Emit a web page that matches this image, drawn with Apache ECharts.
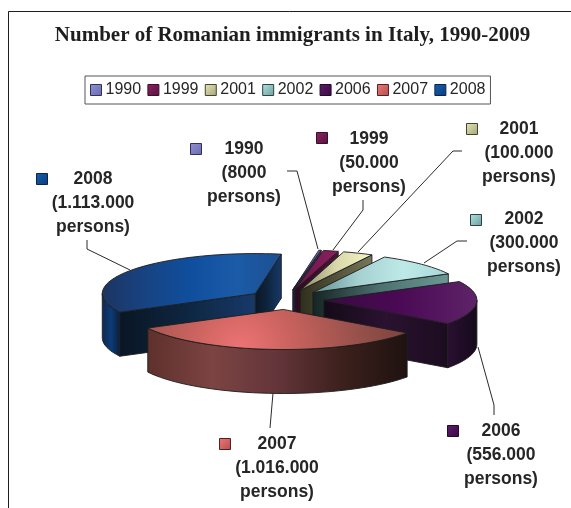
<!DOCTYPE html>
<html>
<head>
<meta charset="utf-8">
<style>html,body{margin:0;padding:0;background:#fff}#chart{width:571px;height:508px}</style>
<script src="https://cdn.jsdelivr.net/npm/echarts@6/dist/echarts.min.js"></script>
</head>
<body>
<div id="chart"></div>
<script>
// Romanian immigrants in Italy, by year of record
const years = ['1990', '1999', '2001', '2002', '2006', '2007', '2008'];
const persons = [8000, 50000, 100000, 300000, 556000, 1016000, 1113000];
const personLabels = ['(8000', '(50.000', '(100.000', '(300.000', '(556.000', '(1.016.000', '(1.113.000'];

// Projection of the tilted pie
const CENTER = [286, 299.5], RADIUS = 153, TILT = 0.262, DEPTH = 44, EXPLODE = 38, START_DEG = 9.8;

// Fills per year: top face, outer wall, radial cut face, swatch
const h = (...c) => ({ type: 'linear', x: 0, y: 0, x2: 1, y2: 0,
  colorStops: c.map((color, i) => ({ offset: i / (c.length - 1), color })) });
const swatch = (light, dark) => ({ type: 'linear', x: 0, y: 0, x2: 1, y2: 1,
  colorStops: [{ offset: 0, color: light }, { offset: 1, color: dark }] });
const fills = {
  '1990': { top: h('#4a4a8c', '#6c6cb4'), wall: h('#24244a', '#2c2c5c'), cut: h('#1e1e40', '#34346a'),
            key: swatch('#9090d4', '#6a6ab0'), edge: '#30305a' },
  '1999': { top: h('#6a1446', '#8e2060'), wall: h('#3a0f2a', '#3a0f2a'), cut: h('#2c0a20', '#4a1436'),
            key: swatch('#8e2262', '#56123e'), edge: '#3a0f2a' },
  '2001': { top: h('#8a8a66', '#d8d8aa', '#f4f4c6'), wall: h('#33331f', '#33331f'), cut: h('#2e2e1c', '#77775c'),
            key: swatch('#e6e6b8', '#a4a47c'), edge: '#44442c' },
  '2002': { top: h('#5f8f8f', '#a4d0d0', '#bee9e9', '#a8d8d8'), wall: h('#142424', '#142424'), cut: h('#142424', '#4c7270', '#6c9894'),
            key: swatch('#b4e2e2', '#6c9c9c'), edge: '#2a4444' },
  '2006': { top: h('#380a40', '#4a0a54', '#5e2368'), wall: h('#2a0f32', '#150a1a'), cut: h('#140a18', '#2a1230', '#1c0c20'),
            key: swatch('#5e1c6a', '#3a0a44'), edge: '#220a28' },
  '2007': { top: { type: 'radial', x: 0.36, y: 1, r: 4.2, colorStops: [{ offset: 0, color: '#ee7474' }, { offset: 0.3, color: '#c9625e' }, { offset: 0.7, color: '#95504a' }, { offset: 1, color: '#7a403a' }] },
            wall: h('#5e302c', '#7c4442', '#63353a', '#3c201c', '#1e1210'), cut: h('#1e1210', '#1e1210'),
            key: swatch('#ee7878', '#b24e4e'), edge: '#552022' },
  '2008': { top: h('#1c3461', '#174483', '#0f4f9e', '#1b5ba8', '#1e4f90'), wall: h('#0c2850', '#0d3b78', '#0a1e3a'), cut: h('#0a1624', '#0e2640', '#17396a'),
            key: swatch('#1460b0', '#0c3c7c'), edge: '#0e2444' }
};

// Annotation layout: text centre, first line y, swatch centre, leader path
const notes = {
  '1990': { x: 244, y: 149, key: [196, 149], lead: [[287, 171], [297, 171], [318, 249]] },
  '1999': { x: 369, y: 139, key: [322, 138], lead: [[363, 200], [363, 210], [333, 250]] },
  '2001': { x: 519, y: 129, key: [472, 129], lead: [[462, 151], [453, 151], [358, 252]] },
  '2002': { x: 524, y: 219, key: [476, 220], lead: [[467, 241], [457, 241], [424, 263]] },
  '2006': { x: 501, y: 431, key: [453, 431], lead: [[478, 347], [494, 405], [494, 415]] },
  '2007': { x: 277, y: 444, key: [225, 444], lead: [[273, 393], [270, 428]] },
  '2008': { x: 93, y: 179, key: [42, 179], lead: [[87, 240], [87, 249], [130, 270]] }
};

// Back-to-front stacking of the slices
const stacking = { '1990': 1, '1999': 2, '2001': 3, '2002': 4, '2008': 5, '2006': 6, '2007': 7 };

const total = persons.reduce((a, b) => a + b, 0);
const RAD = Math.PI / 180;

function sliceAngles(index, value) {
  const before = persons.slice(0, index).reduce((a, b) => a + b, 0);
  const a0 = START_DEG + before / total * 360;
  return [a0, a0 + value / total * 360];
}

// Angles run clockwise from twelve o'clock
function project(origin, deg, r, drop) {
  return [origin[0] + Math.sin(deg * RAD) * r, origin[1] - Math.cos(deg * RAD) * r * TILT + (drop || 0)];
}

function arc(origin, a0, a1, drop) {
  const n = Math.max(1, Math.ceil((a1 - a0) / 3));
  const pts = [];
  for (let i = 0; i <= n; i++) pts.push(project(origin, a0 + (a1 - a0) * i / n, RADIUS, drop));
  return pts;
}

function poly(points, fill) {
  return { type: 'polygon', silent: true, shape: { points },
    style: { fill, stroke: '#1d1d1d', lineWidth: 0.9, lineJoin: 'round' } };
}

function cutFace(tip, deg, fill) {
  const rim = project(tip, deg, RADIUS);
  return poly([tip, rim, [rim[0], rim[1] + DEPTH], [tip[0], tip[1] + DEPTH]], fill);
}

function renderSlice(index) {
  return function (params, api) {
    const year = years[index];
    const style = fills[year];
    const note = notes[year];
    const [a0, a1] = sliceAngles(index, api.value(0));
    const tip = project(CENTER, (a0 + a1) / 2, EXPLODE);
    const children = [];

    // Radial faces turned toward the viewer
    if (Math.sin(a1 * RAD) > 0) children.push(cutFace(tip, a1, style.cut));
    if (Math.sin(a0 * RAD) < 0) children.push(cutFace(tip, a0, style.cut));

    // Outer wall for the front half of the rim
    const w0 = Math.max(a0, 90), w1 = Math.min(a1, 270);
    if (w1 > w0) {
      children.push(poly(arc(tip, w0, w1, 0).concat(arc(tip, w0, w1, DEPTH).reverse()), style.wall));
    }

    children.push(poly([tip].concat(arc(tip, a0, a1, 0)), style.top));

    // Leader line, swatch and label
    children.push({ type: 'polyline', silent: true, shape: { points: note.lead },
      style: { fill: null, stroke: '#2a2a2a', lineWidth: 1 } });
    children.push({ type: 'rect', silent: true,
      shape: { x: note.key[0] - 5.5, y: note.key[1] - 5.5, width: 11, height: 11 },
      style: { fill: style.key, stroke: style.edge, lineWidth: 1 } });
    children.push({ type: 'text', silent: true, style: {
      text: year + '\n' + personLabels[index] + '\npersons)',
      x: note.x, y: note.y - 12, align: 'center', verticalAlign: 'top',
      font: 'bold 17.5px "Liberation Sans", Arial, sans-serif', lineHeight: 24, fill: '#262626' } });

    return { type: 'group', children };
  };
}

const chart = echarts.init(document.getElementById('chart'), null, { renderer: 'canvas' });
chart.setOption({
  animation: false,
  backgroundColor: '#ffffff',
  title: {
    text: 'Number of Romanian immigrants in Italy, 1990-2009',
    left: 287.5, top: 20, textAlign: 'center',
    textStyle: { fontFamily: '"Liberation Serif", serif', fontWeight: 'bold', fontSize: 21, color: '#1e1e1e' }
  },
  legend: {
    left: 85, top: 76, orient: 'horizontal', icon: 'rect',
    itemWidth: 11, itemHeight: 11, itemGap: 6.3, padding: [6, 5, 6, 5],
    borderColor: '#555555', borderWidth: 1,
    selectedMode: false,
    textStyle: { fontFamily: '"Liberation Sans", Arial, sans-serif', fontSize: 16, color: '#262626', padding: [0, 0, 0, -1] },
    data: years.map(y => ({ name: y, itemStyle: { color: fills[y].key, borderColor: fills[y].edge, borderWidth: 1 } }))
  },
  graphic: [{
    type: 'polyline', silent: true,
    shape: { points: [[8.5, 508], [8.5, 11.5], [571, 11.5]] },
    style: { fill: null, stroke: '#1e1e1e', lineWidth: 1 }
  }],
  series: years.map((year, i) => ({
    type: 'custom',
    name: year,
    coordinateSystem: 'none',
    z: stacking[year] + 2,
    clip: false,
    itemStyle: { color: fills[year].key },
    data: [[persons[i]]],
    renderItem: renderSlice(i)
  }))
});
</script>
</body>
</html>
